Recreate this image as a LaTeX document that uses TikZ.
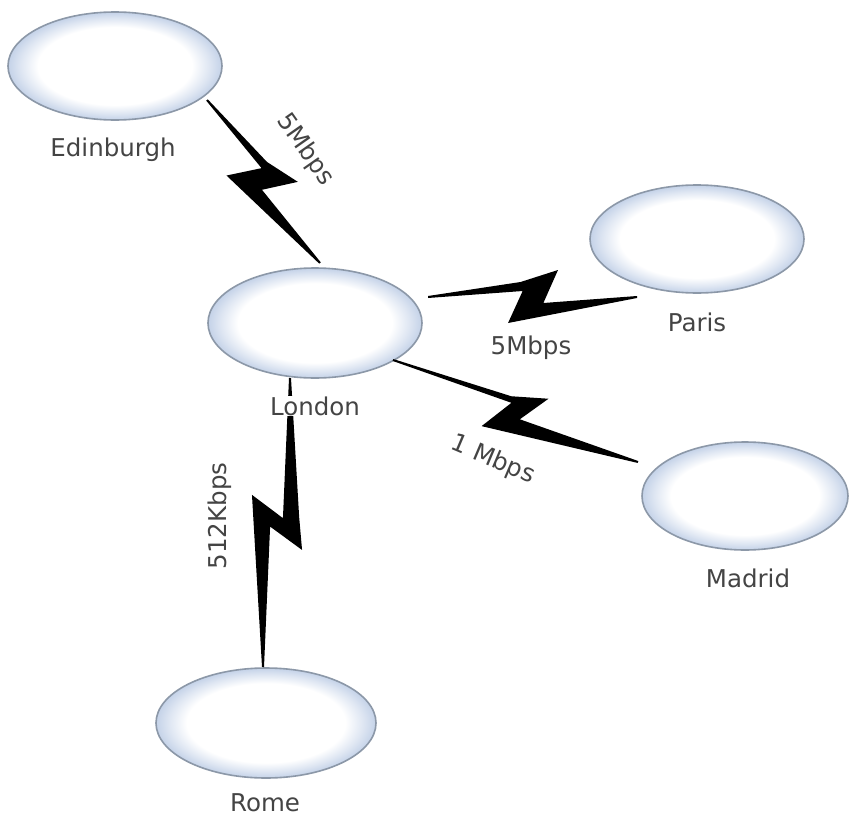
\documentclass[tikz,border=0pt]{standalone}
\usepackage{fontspec}
\setmainfont{DejaVu Sans}
\usetikzlibrary{calc,shapes.geometric}
\definecolor{ellblue}{RGB}{196,210,232}
\definecolor{ellline}{RGB}{140,152,168}
\definecolor{labelgray}{RGB}{68,68,68}
\pgfdeclareradialshading{ellshade}{\pgfpoint{0bp}{0bp}}{color(0bp)=(white); color(18bp)=(white); color(22bp)=(ellblue!55!white); color(25bp)=(ellblue); color(50bp)=(ellblue)}
% lightning link: from, to, t of lower tip, its offset, t of upper tip, its offset, offset of upper-stroke kink
\newcommand\zbolt[7]{%
  \fill[boltfill] ($(#1)!1pt!90:(#2)$)
   -- ($(#1)!{#3+0.06}!(#2)!#7pt!90:(#2)$)
   -- ($(#1)!#5!(#2)!#6pt!90:(#2)$)
   -- ($(#1)!{#5-0.07}!(#2)!6pt!270:(#2)$)
   -- ($(#2)!1pt!270:(#1)$)
   -- ($(#2)!1pt!90:(#1)$)
   -- ($(#1)!#3!(#2)!#4pt!270:(#2)$)
   -- ($(#1)!{#3+0.07}!(#2)!6pt!90:(#2)$)
   -- ($(#1)!1pt!270:(#2)$)
   -- cycle;}
\tikzset{
  site/.style={ellipse, draw=ellline, line width=1.6pt, shade, shading=ellshade,
    minimum width=214pt, minimum height=108pt, inner sep=0pt},
  lbl/.style={text=labelgray, font=\fontsize{24.5}{28}\selectfont, inner sep=1pt},
  boltfill/.style={fill=black}
}
\begin{document}
\begin{tikzpicture}[x=1pt,y=-1pt]
\fill[white] (0,0) rectangle (849,819);
\useasboundingbox (0,0) rectangle (849,819);
% sites
\node[site] (edi) at (115,66) {};
\node[site, minimum height=110pt] (lon) at (315,323) {};
\node[site] (par) at (697,239) {};
\node[site, minimum width=206pt] (mad) at (745,496) {};
\node[site, minimum width=220pt, minimum height=110pt] (rom) at (266,723) {};
% connector ends
\coordinate (eA) at ($(edi.center)+(92,34)$);
\coordinate (eB) at ($(lon.center)+(5,-60)$);
\coordinate (pA) at ($(lon.center)+(113,-26)$);
\coordinate (pB) at ($(par.center)+(-60,58)$);
\coordinate (mA) at ($(lon.center)+(78,37)$);
\coordinate (mB) at ($(mad.center)+(-107,-34)$);
\coordinate (rA) at ($(lon.center)+(-25,55)$);
\coordinate (rB) at ($(rom.center)+(-3,-56)$);
% lightning links
\zbolt{eA}{eB}{0.369}{27}{0.60}{28}{14}
\zbolt{pA}{pB}{0.383}{26}{0.622}{27}{15}
\zbolt{mA}{mB}{0.404}{27}{0.597}{24}{12}
\zbolt{rA}{rB}{0.413}{27}{0.586}{28}{22}
% labels
\node[lbl] (edil) at (113,150) {Edinburgh};
\node[lbl, fill=white] (lonl) at (315,406) {London};
\node[lbl] (parl) at (697,322) {Paris};
\node[lbl] (madl) at (748,578) {Madrid};
\node[lbl] (roml) at (265,803) {Rome};
\node[lbl, rotate=-55] (r1) at (305,150) {5Mbps};
\node[lbl] (r2) at (531,348) {5Mbps};
\node[lbl, rotate=-23] (r3) at (493,460) {1 Mbps};
\node[lbl, rotate=90] (r4) at (220,516) {512Kbps};
\end{tikzpicture}
\end{document}
